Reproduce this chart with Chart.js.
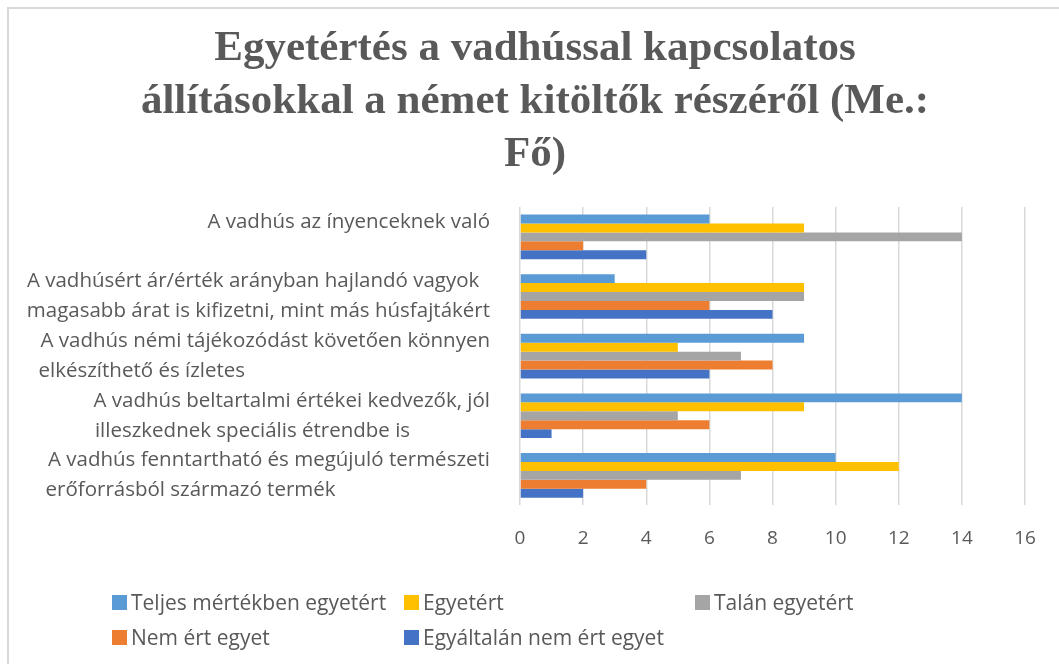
<!DOCTYPE html>
<html><head><meta charset="utf-8">
<script src="https://cdn.jsdelivr.net/npm/chart.js@4.4.1/dist/chart.umd.min.js"></script>
<style>
html,body{margin:0;padding:0;background:#fff;}
#wrap{position:relative;width:1059px;height:664px;overflow:hidden;background:#fff;}
#frameTop{position:absolute;left:7px;top:7px;right:0;height:2px;background:#d9d9d9;}
#frameLeft{position:absolute;left:7px;top:7px;width:2px;bottom:0;background:#d9d9d9;}
canvas{position:absolute;left:0;top:0;}
.lg{position:absolute;display:flex;align-items:center;font-family:"Open Sans",sans-serif;font-size:21px;color:#595959;white-space:nowrap;}
.lg i{display:inline-block;width:15px;height:15px;margin-right:4px;}
</style></head>
<body>
<div id="wrap">
<canvas id="c" width="1059" height="664"></canvas>
<div id="frameTop"></div><div id="frameLeft"></div>
<div id="legend"></div>
</div>
<script>
const categories = [
  ["A vadhús az ínyenceknek való", ""],
  ["A vadhúsért ár/érték arányban hajlandó vagyok", "magasabb árat is kifizetni, mint más húsfajtákért"],
  ["A vadhús némi tájékozódást követően könnyen", "elkészíthető és ízletes"],
  ["A vadhús beltartalmi értékei kedvezők, jól", "illeszkednek speciális étrendbe is"],
  ["A vadhús fenntartható és megújuló természeti", "erőforrásból származó termék"]
];
const seriesNames = ["Teljes mértékben egyetért", "Egyetért", "Talán egyetért", "Nem ért egyet", "Egyáltalán nem ért egyet"];
const teljes = [6, 3, 9, 14, 10];
const egyetert = [9, 9, 5, 9, 12];
const talan = [14, 9, 7, 5, 7];
const nem = [2, 6, 8, 6, 4];
const egyaltalan = [4, 8, 6, 1, 2];
const xMin = 0, xMax = 16, xStep = 2;
const titleLines = ["Egyetértés a vadhússal kapcsolatos", "állításokkal a német kitöltők részéről (Me.:", "Fő)"];
const colors = ["#5B9BD5", "#FFC000", "#A5A5A5", "#ED7D31", "#4472C4"];

const labelSize = 20.5;
const labelFont = labelSize + 'px "Open Sans"';
const mctx = document.createElement('canvas').getContext('2d');
function padLines(lines) {
  mctx.font = labelFont;
  const max = Math.max(...lines.map(l => mctx.measureText(l).width));
  const sp = mctx.measureText(' ').width;
  return lines.map(l => {
    if (!l) return l;
    let s = l;
    while (mctx.measureText(s + ' ').width <= max + sp / 2) s += ' ';
    return s;
  });
}

const values = [teljes, egyetert, talan, nem, egyaltalan];
const datasets = seriesNames.map((n, i) => ({
  label: n, data: values[i], backgroundColor: colors[i], borderWidth: 0,
  barPercentage: 1.0, categoryPercentage: 0.75
}));

const titleShift = {
  id: 'titleShift',
  afterLayout(chart) {
    const t = chart.titleBlock;
    if (t) { t.left = 45; t.right = 1025; t.width = 980; }
  }
};

new Chart(document.getElementById('c'), {
  type: 'bar',
  data: { labels: categories, datasets },
  plugins: [titleShift],
  options: {
    indexAxis: 'y', responsive: false, animation: false,
    layout: { padding: { left: 0, right: 34, top: 0, bottom: 92 } },
    plugins: {
      legend: { display: false },
      tooltip: { enabled: false },
      title: {
        display: true, text: titleLines, color: '#595959',
        font: { family: 'Liberation Serif', size: 43, weight: 'bold', lineHeight: 1.233 },
        padding: { top: 22, bottom: 26 }
      }
    },
    scales: {
      x: {
        min: xMin, max: xMax,
        ticks: { stepSize: xStep, color: '#595959', font: { family: 'Open Sans', size: 19 }, padding: 22 },
        grid: { color: '#d9d9d9', lineWidth: 1.5, drawTicks: false },
        border: { display: false }
      },
      y: {
        afterFit: (s) => { s.width = 520; },
        ticks: {
          autoSkip: false,
          color: '#595959', font: { family: 'Open Sans', size: labelSize, lineHeight: 30 / labelSize }, padding: 30,
          callback: function (v, i) { return padLines(categories[i]); }
        },
        grid: { display: false, drawTicks: false },
        border: { display: false }
      }
    }
  }
});

const lgPos = [[112, 602], [404, 602], [695, 602], [112, 637], [404, 637]];
const lg = document.getElementById('legend');
seriesNames.forEach((n, i) => {
  const d = document.createElement('div');
  d.className = 'lg';
  d.style.left = lgPos[i][0] + 'px';
  d.style.top = (lgPos[i][1] - 15) + 'px';
  d.style.height = '30px';
  const b = document.createElement('i'); b.style.background = colors[i];
  d.appendChild(b);
  d.appendChild(document.createTextNode(n));
  lg.appendChild(d);
});
</script>
</body></html>
